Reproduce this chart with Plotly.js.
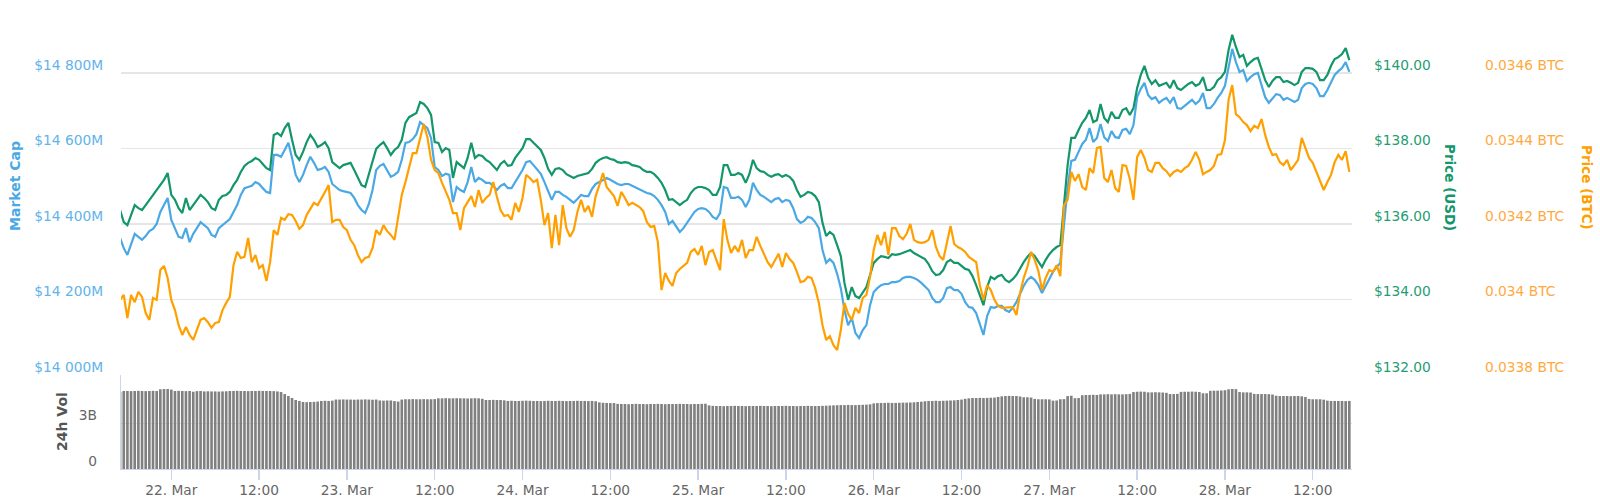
<!DOCTYPE html>
<html>
<head>
<meta charset="utf-8">
<script src="https://cdn.plot.ly/plotly-3.0.1.min.js"></script>
<style>
html,body{margin:0;padding:0;background:#ffffff;}
#chart{width:1600px;height:502px;}
</style>
</head>
<body>
<div id="chart"></div>
<script>
// ---- time grid: 30-minute samples starting 21 Mar 2019 17:00 ----
const seriesStart = [2019, 2, 21, 17, 0];
const stepMinutes = 30;

// ---- Market Cap (USD millions) ----
const marketCap = [
14363,14336,14318,14344,14374,14366,14358,14368,14381,14387,
14400,14432,14450,14469,14411,14389,14366,14363,14389,14352,
14374,14389,14405,14397,14389,14371,14366,14389,14397,14403,
14413,14432,14450,14477,14495,14498,14501,14511,14506,14495,
14485,14482,14583,14583,14578,14596,14615,14575,14530,14511,
14530,14556,14578,14562,14543,14546,14551,14538,14506,14498,
14490,14487,14485,14482,14469,14450,14437,14429,14453,14490,
14543,14554,14559,14543,14525,14530,14538,14570,14615,14617,
14625,14638,14670,14662,14654,14628,14551,14543,14527,14533,
14530,14458,14498,14490,14485,14511,14551,14511,14522,14517,
14509,14509,14501,14490,14501,14506,14495,14495,14511,14527,
14543,14564,14567,14556,14543,14533,14511,14485,14464,14485,
14485,14477,14472,14464,14456,14466,14477,14474,14474,14493,
14506,14511,14517,14522,14517,14511,14506,14503,14506,14506,
14501,14495,14490,14487,14482,14480,14474,14464,14450,14432,
14400,14408,14395,14379,14389,14403,14419,14432,14440,14442,
14440,14432,14419,14413,14429,14498,14495,14469,14469,14472,
14464,14445,14464,14509,14490,14477,14472,14464,14458,14466,
14469,14458,14464,14461,14442,14413,14403,14408,14419,14416,
14405,14389,14331,14297,14307,14297,14268,14230,14172,14132,
14151,14111,14098,14119,14132,14185,14220,14230,14238,14241,
14241,14246,14246,14249,14257,14260,14260,14257,14252,14244,
14233,14225,14204,14193,14193,14204,14230,14233,14225,14225,
14215,14193,14180,14178,14164,14132,14106,14156,14180,14178,
14183,14183,14172,14167,14178,14193,14215,14236,14252,14260,
14252,14238,14217,14236,14254,14273,14286,14297,14397,14495,
14567,14570,14591,14612,14623,14654,14617,14628,14665,14630,
14620,14646,14630,14628,14649,14652,14638,14662,14736,14758,
14774,14742,14731,14736,14721,14729,14734,14721,14736,14707,
14705,14713,14721,14729,14718,14726,14747,14707,14707,14718,
14734,14747,14766,14819,14864,14829,14803,14808,14779,14789,
14797,14800,14771,14736,14721,14734,14744,14742,14729,14734,
14729,14723,14729,14760,14771,14774,14771,14760,14739,14739,
14755,14776,14795,14805,14813,14829,14803
];

// ---- Price (USD) ----
const priceUsd = [
136.37,136.05,135.97,136.24,136.50,136.42,136.37,136.50,136.64,136.77,
136.90,137.03,137.17,137.35,136.77,136.64,136.42,136.29,136.69,136.37,
136.50,136.64,136.77,136.69,136.58,136.42,136.37,136.64,136.74,136.77,
136.85,137.03,137.17,137.38,137.54,137.62,137.67,137.75,137.70,137.59,
137.48,137.43,138.36,138.41,138.33,138.54,138.68,138.23,137.83,137.70,
137.91,138.17,138.36,138.23,138.04,138.09,138.17,138.01,137.64,137.56,
137.48,137.56,137.59,137.62,137.43,137.22,137.03,136.98,137.30,137.62,
137.99,138.09,138.17,138.01,137.83,137.96,138.04,138.23,138.68,138.83,
138.89,138.94,139.23,139.18,139.07,138.89,138.17,138.15,137.91,138.01,
137.96,137.22,137.64,137.56,137.48,137.75,138.15,137.75,137.83,137.80,
137.70,137.64,137.54,137.43,137.59,137.67,137.54,137.56,137.75,137.88,
138.01,138.25,138.25,138.15,138.04,137.96,137.75,137.46,137.30,137.46,
137.48,137.43,137.32,137.27,137.22,137.27,137.30,137.32,137.35,137.46,
137.62,137.70,137.75,137.77,137.72,137.70,137.64,137.62,137.64,137.62,
137.56,137.54,137.51,137.43,137.38,137.38,137.32,137.22,137.09,136.90,
136.64,136.66,136.58,136.50,136.58,136.64,136.82,136.93,136.98,136.98,
136.95,136.90,136.77,136.77,136.98,137.56,137.56,137.30,137.30,137.35,
137.30,137.09,137.32,137.70,137.48,137.40,137.38,137.30,137.25,137.30,
137.32,137.25,137.30,137.25,137.14,136.90,136.72,136.77,136.85,136.82,
136.74,136.58,136.03,135.68,135.79,135.71,135.44,135.15,134.44,133.99,
134.33,134.09,134.04,134.20,134.33,134.65,134.97,135.07,135.15,135.13,
135.10,135.20,135.18,135.20,135.23,135.26,135.31,135.23,135.18,135.13,
135.07,134.94,134.75,134.65,134.67,134.78,134.99,135.05,134.97,134.97,
134.89,134.81,134.78,134.62,134.38,134.09,133.85,134.33,134.60,134.54,
134.62,134.65,134.52,134.46,134.54,134.65,134.83,134.99,135.13,135.23,
135.15,135.02,134.86,135.05,135.20,135.31,135.39,135.44,136.45,137.56,
138.28,138.28,138.49,138.68,138.81,139.02,138.70,138.75,139.18,138.81,
138.70,138.97,138.81,138.81,139.02,139.07,138.89,139.07,139.60,139.95,
140.19,139.87,139.71,139.81,139.66,139.71,139.74,139.60,139.81,139.60,
139.55,139.63,139.71,139.76,139.66,139.71,139.89,139.55,139.55,139.63,
139.81,139.89,140.03,140.61,141.01,140.69,140.42,140.48,140.19,140.29,
140.37,140.40,140.13,139.81,139.63,139.79,139.89,139.89,139.76,139.79,
139.74,139.68,139.74,140.03,140.13,140.13,140.11,140.03,139.81,139.81,
139.95,140.19,140.37,140.42,140.50,140.66,140.34
];

// ---- Price (BTC) ----
const priceBtc = [
0.033999,0.034012,0.033951,0.034012,0.033993,0.034020,0.034007,0.033964,0.033946,0.034004,
0.033999,0.034078,0.034089,0.034057,0.033999,0.033972,0.033932,0.033906,0.033927,0.033906,
0.033893,0.033919,0.033946,0.033951,0.033940,0.033925,0.033938,0.033940,0.033972,0.033991,
0.034007,0.034091,0.034126,0.034110,0.034113,0.034163,0.034099,0.034118,0.034083,0.034091,
0.034049,0.034099,0.034184,0.034171,0.034216,0.034211,0.034226,0.034224,0.034208,0.034187,
0.034197,0.034224,0.034242,0.034256,0.034250,0.034266,0.034285,0.034303,0.034205,0.034211,
0.034211,0.034192,0.034184,0.034158,0.034144,0.034118,0.034099,0.034110,0.034113,0.034136,
0.034184,0.034171,0.034197,0.034181,0.034171,0.034158,0.034219,0.034277,0.034311,0.034348,
0.034388,0.034388,0.034430,0.034465,0.034430,0.034370,0.034343,0.034335,0.034309,0.034287,
0.034264,0.034229,0.034229,0.034184,0.034242,0.034258,0.034274,0.034245,0.034290,0.034256,
0.034269,0.034277,0.034311,0.034272,0.034237,0.034221,0.034224,0.034211,0.034256,0.034232,
0.034269,0.034330,0.034322,0.034311,0.034317,0.034264,0.034197,0.034229,0.034136,0.034224,
0.034144,0.034250,0.034189,0.034166,0.034184,0.034232,0.034264,0.034232,0.034248,0.034219,
0.034274,0.034303,0.034335,0.034298,0.034285,0.034274,0.034248,0.034285,0.034269,0.034250,
0.034256,0.034250,0.034245,0.034234,0.034205,0.034192,0.034195,0.034152,0.034025,0.034070,
0.034049,0.034036,0.034070,0.034081,0.034089,0.034097,0.034126,0.034134,0.034118,0.034142,
0.034091,0.034126,0.034131,0.034102,0.034078,0.034213,0.034158,0.034123,0.034142,0.034126,
0.034158,0.034110,0.034131,0.034131,0.034166,0.034142,0.034121,0.034099,0.034086,0.034105,
0.034121,0.034086,0.034123,0.034107,0.034097,0.034073,0.034046,0.034049,0.034060,0.034057,
0.034030,0.033991,0.033932,0.033893,0.033903,0.033879,0.033866,0.033919,0.033991,0.033962,
0.033946,0.033978,0.033964,0.034004,0.034012,0.034060,0.034131,0.034171,0.034144,0.034179,
0.034118,0.034189,0.034189,0.034168,0.034160,0.034174,0.034200,0.034158,0.034152,0.034150,
0.034152,0.034158,0.034184,0.034139,0.034115,0.034105,0.034147,0.034195,0.034147,0.034139,
0.034134,0.034126,0.034113,0.034105,0.034099,0.034038,0.033999,0.034038,0.034025,0.033999,
0.033983,0.033978,0.033978,0.033980,0.033980,0.033959,0.034017,0.034057,0.034086,0.034126,
0.034105,0.034076,0.034025,0.034057,0.034078,0.034073,0.034091,0.034062,0.034250,0.034264,
0.034338,0.034314,0.034332,0.034298,0.034290,0.034348,0.034335,0.034401,0.034404,0.034322,
0.034311,0.034343,0.034295,0.034285,0.034356,0.034354,0.034319,0.034264,0.034377,0.034396,
0.034375,0.034343,0.034338,0.034362,0.034362,0.034348,0.034340,0.034327,0.034338,0.034343,
0.034338,0.034348,0.034354,0.034370,0.034391,0.034370,0.034332,0.034338,0.034343,0.034354,
0.034383,0.034385,0.034422,0.034529,0.034568,0.034491,0.034483,0.034470,0.034462,0.034446,
0.034460,0.034454,0.034478,0.034436,0.034404,0.034383,0.034385,0.034364,0.034356,0.034370,
0.034343,0.034356,0.034370,0.034428,0.034401,0.034375,0.034362,0.034338,0.034317,0.034290,
0.034311,0.034330,0.034364,0.034383,0.034370,0.034393,0.034338
];

// ---- 24h Volume (USD billions) ----
const volume24h = [
5.02,5.09,5.09,5.08,5.09,5.10,5.09,5.08,5.09,5.10,5.09,
5.20,5.22,5.22,5.18,
5.09,5.10,5.09,5.08,5.09,5.04,5.08,5.09,
5.06,5.07,5.06,5.06,5.05,5.06,5.07,
5.09,5.09,5.10,5.09,5.09,5.08,5.09,5.09,5.10,5.09,5.09,5.09,5.08,5.06,
5.02,4.89,4.76,4.63,4.50,4.44,
4.37,4.36,4.37,4.38,4.40,
4.44,4.45,4.44,4.46,
4.53,4.53,4.54,4.53,4.53,4.52,4.53,4.53,4.54,4.53,4.52,4.53,
4.47,4.46,4.47,4.47,4.43,4.40,
4.53,4.55,4.55,4.56,4.55,4.55,4.56,4.55,4.55,4.56,
4.61,4.61,4.62,4.61,4.61,4.62,4.61,4.61,4.60,4.61,4.62,4.61,4.58,
4.50,4.50,4.51,4.50,4.50,4.48,
4.44,4.45,4.44,4.44,4.45,4.46,4.45,4.44,4.44,4.43,4.44,4.45,4.44,4.44,4.45,4.44,4.43,4.44,4.44,4.45,4.44,4.44,4.43,4.44,4.42,
4.35,4.32,4.31,4.30,4.30,
4.25,4.24,4.24,4.23,4.24,4.25,4.24,4.24,4.23,4.24,4.24,4.25,4.24,4.23,4.24,4.24,4.24,4.25,4.24,4.24,4.23,4.24,4.24,4.25,4.26,
4.15,4.12,4.11,4.11,4.10,4.11,4.11,4.12,4.11,4.11,4.10,4.11,4.11,4.11,4.12,4.11,4.11,4.10,4.11,4.11,4.11,4.12,4.11,4.11,4.10,4.11,4.11,4.12,4.11,4.11,4.11,4.12,4.13,4.14,4.15,
4.16,4.17,4.17,4.18,4.17,4.17,4.18,4.19,4.20,4.22,
4.28,4.30,4.31,4.31,4.32,4.31,4.31,4.32,4.33,4.33,4.34,4.35,4.37,4.39,
4.42,4.44,4.44,4.45,4.44,4.45,4.46,4.47,4.48,4.50,4.53,
4.58,4.61,4.63,4.63,4.64,4.63,4.64,4.65,4.66,4.70,
4.74,4.76,4.77,4.76,4.76,4.73,
4.68,4.68,4.66,
4.57,4.55,4.55,4.55,4.54,
4.46,4.47,
4.55,4.56,
4.76,4.78,
4.62,4.63,
4.81,4.83,4.83,4.84,4.83,
4.87,4.87,4.88,4.87,4.88,4.87,4.87,4.88,4.90,
5.02,5.04,5.05,5.04,
5.00,5.00,5.01,5.00,4.99,4.97,
4.89,4.89,4.90,
5.03,5.04,5.04,5.05,5.04,5.02,
4.94,4.94,
5.10,5.11,5.11,5.12,5.14,
5.20,5.22,5.21,
5.02,5.00,5.00,4.99,
4.90,4.89,4.89,4.89,4.88,4.86,
4.78,4.76,4.76,4.76,4.75,4.76,4.76,4.74,4.70,
4.57,4.55,4.55,4.55,4.52,
4.46,4.44,4.44,4.44,4.44,4.43,4.44
];

// ---- axis ticks ----
const xTickVals = ['2019-03-22 00:00','2019-03-22 12:00','2019-03-23 00:00','2019-03-23 12:00',
  '2019-03-24 00:00','2019-03-24 12:00','2019-03-25 00:00','2019-03-25 12:00',
  '2019-03-26 00:00','2019-03-26 12:00','2019-03-27 00:00','2019-03-27 12:00',
  '2019-03-28 00:00','2019-03-28 12:00'];
const xTickText = ['22. Mar','12:00','23. Mar','12:00','24. Mar','12:00','25. Mar','12:00',
  '26. Mar','12:00','27. Mar','12:00','28. Mar','12:00'];
const mcapTickVals = [14000,14200,14400,14600,14800];
const mcapTickText = ['$14 000M','$14 200M','$14 400M','$14 600M','$14 800M'];
const usdTickVals = [132,134,136,138,140];
const usdTickText = ['$132.00','$134.00','$136.00','$138.00','$140.00'];
const btcTickVals = [0.0338,0.0340,0.0342,0.0344,0.0346];
const btcTickText = ['0.0338 BTC','0.034 BTC','0.0342 BTC','0.0344 BTC','0.0346 BTC'];
const volTickVals = [0,3];
const volTickText = ['0','3B'];

// ---- build timestamps ----
function pad(n){return (n<10?'0':'')+n;}
const t0 = Date.UTC(seriesStart[0],seriesStart[1],seriesStart[2],seriesStart[3],seriesStart[4]);
const times = marketCap.map(function(_,i){
  const d = new Date(t0 + i*stepMinutes*60000);
  return d.getUTCFullYear()+'-'+pad(d.getUTCMonth()+1)+'-'+pad(d.getUTCDate())+' '+pad(d.getUTCHours())+':'+pad(d.getUTCMinutes());
});

// ---- layout geometry (pixels) ----
const W = 1600, H = 502;
const plotLeft = 121, plotRight = 1352;
const mainTop = 30, mainBottom = 375, volBottom = 469;
const fy = function(px){return 1 - px/H;};

const FONT = 'DejaVu Sans, Verdana, sans-serif';
const BLUE = '#4aa8e4', GREEN = '#13966a', ORANGE = '#ffa000';

const traces = [
  {type:'bar', x:times, y:volume24h, xaxis:'x', yaxis:'y4', name:'24h Vol',
   marker:{color:'#808080', line:{width:0}}, hoverinfo:'skip'},
  {type:'scatter', mode:'lines', x:times, y:marketCap, xaxis:'x', yaxis:'y', name:'Market Cap',
   line:{color:BLUE, width:2.2}, hoverinfo:'skip'},
  {type:'scatter', mode:'lines', x:times, y:priceUsd, xaxis:'x', yaxis:'y2', name:'Price (USD)',
   line:{color:GREEN, width:2.2}, hoverinfo:'skip'},
  {type:'scatter', mode:'lines', x:times, y:priceBtc, xaxis:'x', yaxis:'y3', name:'Price (BTC)',
   line:{color:ORANGE, width:2.2}, hoverinfo:'skip'}
];

const layout = {
  width: W, height: H,
  margin:{l:0,r:0,t:0,b:0,pad:0},
  paper_bgcolor:'#ffffff', plot_bgcolor:'rgba(0,0,0,0)',
  showlegend:false, hovermode:false, bargap:0.28,
  font:{family:FONT, size:13.75, color:'#666666'},
  xaxis:{
    type:'date', domain:[plotLeft/W, plotRight/W],
    range:['2019-03-21 17:07:30','2019-03-28 17:22'],
    anchor:'y4', tickmode:'array', tickvals:xTickVals, ticktext:xTickText,
    ticks:'outside', ticklen:10, tickwidth:1.3, tickcolor:'#ccd6eb',
    showgrid:false, zeroline:false, showline:true, linecolor:'#ccd6eb', linewidth:1,
    tickfont:{family:FONT, size:13.75, color:'#666666'}, ticklabelstandoff:-2, automargin:false
  },
  yaxis:{
    domain:[fy(mainBottom), fy(mainTop)], range:[14000, 14913.9],
    tickmode:'array', tickvals:mcapTickVals, ticktext:mcapTickText,
    tickfont:{family:FONT, size:13.75, color:'#62b3ea'},
    showgrid:true, gridcolor:'#e6e6e6', gridwidth:1.3, zeroline:false, showline:false,
    ticks:'', ticklabelstandoff:17, ticklabelshift:-8, automargin:false, anchor:'x'
  },
  yaxis2:{
    overlaying:'y', side:'right', anchor:'x', range:[132, 141.139],
    tickmode:'array', tickvals:usdTickVals, ticktext:usdTickText,
    tickfont:{family:FONT, size:13.75, color:'#1f9d74'},
    showgrid:false, zeroline:false, showline:false, ticks:'',
    ticklabelstandoff:21, ticklabelshift:-8, automargin:false
  },
  yaxis3:{
    overlaying:'y', side:'right', anchor:'free', position:1466/W, range:[0.0338, 0.0347139],
    tickmode:'array', tickvals:btcTickVals, ticktext:btcTickText,
    tickfont:{family:FONT, size:13.75, color:'#ffa940'},
    showgrid:false, zeroline:false, showline:false, ticks:'',
    ticklabelstandoff:18, ticklabelshift:-8, automargin:false
  },
  yaxis4:{
    domain:[fy(volBottom), fy(mainBottom)], range:[0, 6.132], anchor:'x',
    tickmode:'array', tickvals:volTickVals, ticktext:volTickText,
    tickfont:{family:FONT, size:13.75, color:'#666666'},
    showgrid:true, gridcolor:'#e6e6e6', gridwidth:1, zeroline:false,
    showline:true, linecolor:'#ccd6eb', linewidth:1.3, ticks:'',
    ticklabelstandoff:20, ticklabelshift:-8, automargin:false
  },
  annotations:[
    {text:'<b>Market Cap</b>', xref:'paper', yref:'paper', x:15/W, y:fy(186), textangle:-90,
     showarrow:false, xanchor:'center', yanchor:'middle', font:{family:FONT, size:14, color:BLUE}},
    {text:'<b>24h Vol</b>', xref:'paper', yref:'paper', x:62/W, y:fy(422), textangle:-90,
     showarrow:false, xanchor:'center', yanchor:'middle', font:{family:FONT, size:14, color:'#555555'}},
    {text:'<b>Price (USD)</b>', xref:'paper', yref:'paper', x:1450/W, y:fy(187), textangle:90,
     showarrow:false, xanchor:'center', yanchor:'middle', font:{family:FONT, size:13.5, color:GREEN}},
    {text:'<b>Price (BTC)</b>', xref:'paper', yref:'paper', x:1587/W, y:fy(187), textangle:90,
     showarrow:false, xanchor:'center', yanchor:'middle', font:{family:FONT, size:13.5, color:ORANGE}}
  ]
};

Plotly.newPlot('chart', traces, layout, {staticPlot:true, displayModeBar:false});
</script>
</body>
</html>
